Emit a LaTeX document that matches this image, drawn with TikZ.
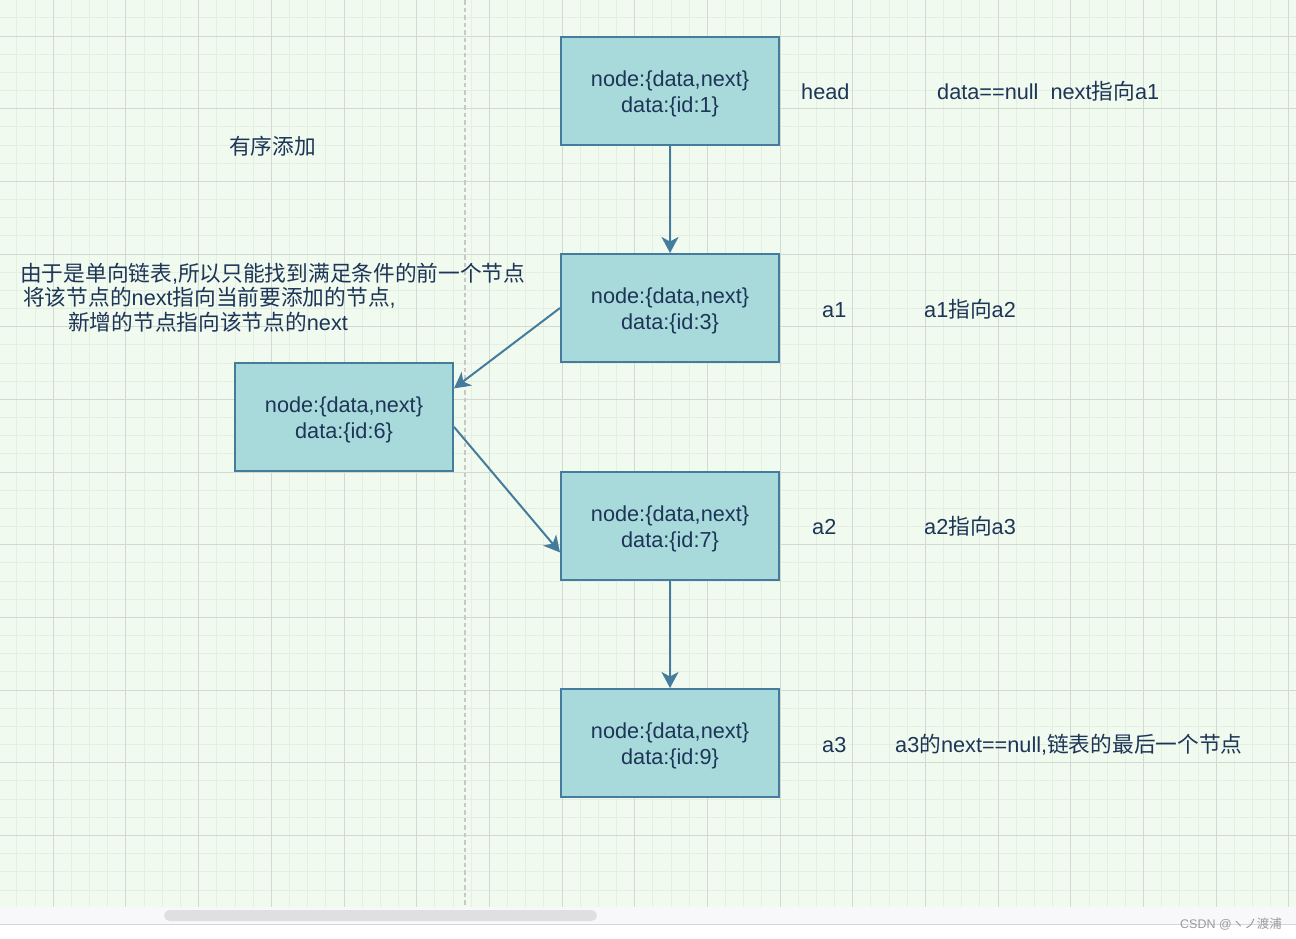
\documentclass[tikz,border=0pt]{standalone}
\usepackage{fontspec}
\setmainfont{Liberation Sans}
\newfontfamily\cjk{Noto Sans CJK SC}
\usetikzlibrary{arrows.meta,calc}
\definecolor{bgc}{HTML}{F1FAEE}
\definecolor{fillc}{HTML}{A8DADC}
\definecolor{strokec}{HTML}{457B9D}
\definecolor{txtc}{HTML}{1D3557}
\definecolor{minorc}{HTML}{E5EEE3}
\definecolor{majorc}{HTML}{D2D8D2}
\definecolor{dashc}{HTML}{C8C8C8}
\definecolor{barc}{HTML}{F8F8FA}
\definecolor{thumbc}{HTML}{DFDFE1}
\definecolor{barline}{HTML}{D6D6D6}
\definecolor{wmc}{HTML}{9A9A9A}
\tikzset{
  boxstyle/.style={draw=strokec, fill=fillc, line width=2pt, minimum width=218pt,
    minimum height=108pt, align=center, text=txtc, inner sep=0pt,
    font=\fontsize{21.7}{26}\selectfont},
  lbl/.style={anchor=base west, inner sep=0pt, text=txtc,
    font=\fontsize{21.7}{26}\selectfont},
  arr/.style={draw=strokec, line width=2pt,
    -{Stealth[length=16pt, width=17pt, inset=4.5pt]}},
  minorline/.style={draw=minorc, line width=1pt},
  majorline/.style={draw=majorc, line width=1pt},
}
\newcommand{\boxtext}[1]{\rule{0pt}{22pt}node:\{data,next\}\\data:\{id:#1\}}
\begin{document}
\begin{tikzpicture}[x=1pt,y=-1pt]
\useasboundingbox (0,0) rectangle (1296,938);
\fill[white] (0,0) rectangle (1296,938);
\fill[bgc] (0,0) rectangle (1296,907);
\begin{scope}
\clip (0,0) rectangle (1296,907);
\foreach \i in {-3,...,68} {
  \draw[minorline] ({53.3+\i*18.17},0) -- ({53.3+\i*18.17},907);
}
\foreach \j in {-2,...,49} {
  \draw[minorline] (0,{36+\j*18.17}) -- (1296,{36+\j*18.17});
}
\foreach \i in {-1,...,17} {
  \draw[majorline] ({53.3+\i*72.68},0) -- ({53.3+\i*72.68},907);
}
\foreach \j in {-1,...,12} {
  \draw[majorline] (0,{36+\j*72.68}) -- (1296,{36+\j*72.68});
}
\draw[dashc, line width=1.6pt, dash pattern=on 4.5pt off 3pt] (465,0) -- (465,907);
\end{scope}
% scrollbar
\fill[barc] (0,907) rectangle (1296,924.5);
\draw[barline, line width=1pt] (0,924.5) -- (1296,924.5);
\fill[thumbc, rounded corners=5.5pt] (164,910) rectangle (597,921);

% boxes
\node[boxstyle] (b1) at (670,91) {\boxtext{1}};
\node[boxstyle] (b2) at (670,308) {\boxtext{3}};
\node[boxstyle] (b6) at (344,417) {\boxtext{6}};
\node[boxstyle] (b7) at (670,526) {\boxtext{7}};
\node[boxstyle] (b9) at (670,743) {\boxtext{9}};

% arrows
\draw[arr] (b1.south) -- (b2.north);
\draw[arr] (b2.west) -- ($(b6.north east)!0.24!(b6.south east)$);
\draw[arr] ($(b6.north east)!0.59!(b6.south east)$) -- ($(b7.north west)!0.74!(b7.south west)$);
\draw[arr] (b7.south) -- (b9.north);

% labels
\node[lbl] (t0) at (229,154) {{\cjk 有序添加}};
\node[lbl] (t1) at (20,281) {{\cjk 由于是单向链表},{\cjk 所以只能找到满足条件的前一个节点}};
\node[lbl] (t2) at (23,305) {{\cjk 将该节点的}next{\cjk 指向当前要添加的节点},};
\node[lbl] (t3) at (68,330) {{\cjk 新增的节点指向该节点的}next};
\node[lbl] (h0) at (801,99) {head};
\node[lbl] (h1) at (937,99) {data==null\ \ next{\cjk 指向}a1};
\node[lbl] (a1) at (822,317) {a1};
\node[lbl] (a1t) at (924,317) {a1{\cjk 指向}a2};
\node[lbl] (a2) at (812,534) {a2};
\node[lbl] (a2t) at (924,534) {a2{\cjk 指向}a3};
\node[lbl] (a3) at (822,752) {a3};
\node[lbl] (a3t) at (895,752) {a3{\cjk 的}next==null,{\cjk 链表的最后一个节点}};

% watermark
\node[anchor=base west, inner sep=0pt, text=wmc, font=\fontsize{12.5}{14}\selectfont] (wm) at (1180,928) {CSDN @{\cjk ヽノ渡浦}};
\end{tikzpicture}
\end{document}
